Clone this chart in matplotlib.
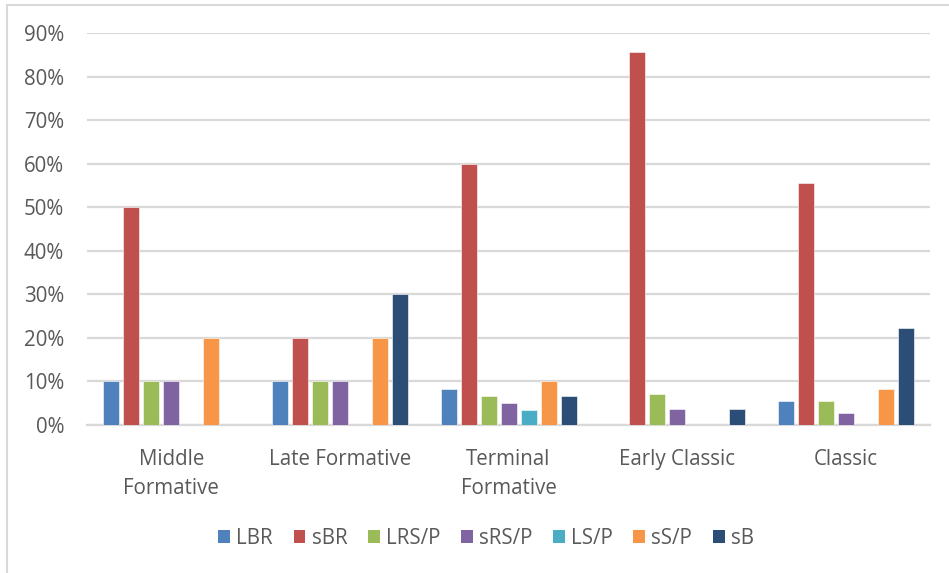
import matplotlib
matplotlib.use("Agg")
import matplotlib.pyplot as plt
import numpy as np
from matplotlib.lines import Line2D
from matplotlib.patches import Patch

categories = ["Middle\nFormative", "Late Formative", "Terminal\nFormative", "Early Classic", "Classic"]
series_names = ["LBR", "sBR", "LRS/P", "sRS/P", "LS/P", "sS/P", "sB"]
LBR = [10.0, 10.0, 8.33, 0.0, 5.56]
sBR = [50.0, 20.0, 60.0, 85.71, 55.56]
LRSP = [10.0, 10.0, 6.67, 7.14, 5.56]
sRSP = [10.0, 10.0, 5.0, 3.57, 2.78]
LSP = [0.0, 0.0, 3.33, 0.0, 0.0]
sSP = [20.0, 20.0, 10.0, 0.0, 8.33]
sB = [0.0, 30.0, 6.67, 3.57, 22.22]
yticks = [0, 10, 20, 30, 40, 50, 60, 70, 80, 90]

colors = ["#4F81BD", "#C0504D", "#9BBB59", "#8064A2", "#4BACC6", "#F79646", "#2C4D75"]
data = [LBR, sBR, LRSP, sRSP, LSP, sSP, sB]

plt.rcParams['font.family'] = ['Open Sans', 'DejaVu Sans']
fig = plt.figure(figsize=(9.49, 5.73), dpi=100)
ax = fig.add_axes([87/949, 1-425/573, (930-87)/949, (425-33)/573])

x = np.arange(len(categories))
step = 20/168.6
width = 16/168.6
for i, (name, vals, c) in enumerate(zip(series_names, data, colors)):
    offs = (i - 3) * step
    ax.bar(x + offs, vals, width=width, color=c, label=name, zorder=3,
           edgecolor='white', linewidth=0.4)

FS = 14.8
ax.set_xlim(-0.5, len(categories) - 0.5)
ax.set_ylim(0, 90)
ax.set_yticks(yticks)
ax.set_yticklabels([f"{v}%" for v in yticks], color="#595959", fontsize=FS)
ax.yaxis.grid(True, color="#D9D9D9", linewidth=1.6, zorder=0)
ax.set_axisbelow(True)
ax.tick_params(axis='y', length=0, pad=16.5)
ax.tick_params(axis='x', length=0, pad=17)
ax.set_xticks(x)
ax.set_xticklabels(categories, color="#595959", fontsize=FS, linespacing=1.5, va='top')
for s in ['top', 'right', 'left']:
    ax.spines[s].set_visible(False)
ax.spines['bottom'].set_color("#D9D9D9")
ax.spines['bottom'].set_linewidth(1.6)

handles = [Patch(facecolor=c, edgecolor='none') for c in colors]
fig.legend(handles, series_names, loc='center', bbox_to_anchor=(486/949, 1-538/573),
           ncol=7, frameon=False, fontsize=FS, handlelength=0.58, handleheight=0.58,
           handletextpad=0.3, columnspacing=1.0, labelcolor="#595959")

# chart border (top and left visible)
fig.add_artist(Line2D([7/949, 1], [1-5/573, 1-5/573], color="#D9D9D9", linewidth=1.5, transform=fig.transFigure))
fig.add_artist(Line2D([7/949, 7/949], [0, 1-5/573], color="#D9D9D9", linewidth=1.5, transform=fig.transFigure))

fig.savefig("out.png", dpi=100)
